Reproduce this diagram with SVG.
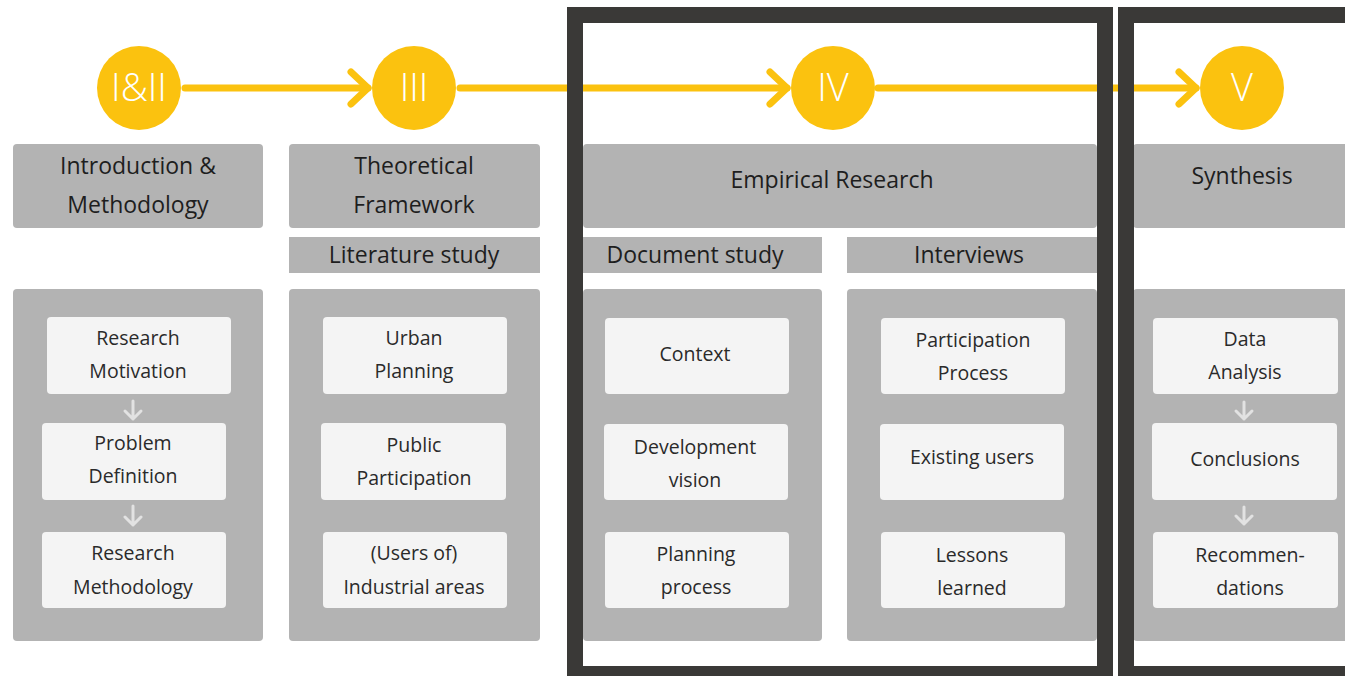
<svg xmlns="http://www.w3.org/2000/svg" width="1345" height="676" viewBox="0 0 1345 676">
<defs>
<style>
.panel{fill:#b3b3b3}
.card{fill:#f4f4f4}
.circ{fill:#fbc20f}
.frame{fill:none;stroke:#3a3937;stroke-width:16}
.flow{stroke:#fbc20f;stroke-width:7;fill:none;stroke-linecap:round;stroke-linejoin:round}
.down{stroke:#e2e2e2;stroke-width:3;fill:none;stroke-linecap:round;stroke-linejoin:round}
.h{font-family:"Open Sans","Liberation Sans",sans-serif;font-size:23px;fill:#1e1e1e;text-anchor:middle}
.s{font-family:"Open Sans","Liberation Sans",sans-serif;font-size:19.5px;fill:#2a2a2a;text-anchor:middle}
.n{font-family:"Open Sans","Liberation Sans",sans-serif;font-size:38px;font-weight:300;fill:#ffffff;text-anchor:middle}
</style>
</defs>
<rect width="1345" height="676" fill="#ffffff"/>

<g id="stage-1-2">
<circle class="circ" cx="139" cy="88" r="42"/>
<text class="n" x="139" y="101">I&amp;II</text>
</g>
<g id="stage-3">
<circle class="circ" cx="414" cy="88" r="42"/>
<text class="n" x="414" y="101">III</text>
</g>
<g id="stage-4">
<circle class="circ" cx="833" cy="88" r="42"/>
<text class="n" x="833" y="101">IV</text>
</g>
<g id="stage-5">
<circle class="circ" cx="1242" cy="88" r="42"/>
<text class="n" x="1242" y="101">V</text>
</g>

<g id="intro-header">
<rect class="panel" x="13" y="144" width="250" height="84" rx="4"/>
<text class="h" x="138" y="174">Introduction &amp;</text>
<text class="h" x="138" y="213">Methodology</text>
</g>
<g id="theory-header">
<rect class="panel" x="289" y="144" width="251" height="84" rx="4"/>
<text class="h" x="414" y="174">Theoretical</text>
<text class="h" x="414" y="213">Framework</text>
</g>
<g id="literature-study">
<rect class="panel" x="289" y="237" width="251" height="36"/>
<text class="h" x="414" y="263">Literature study</text>
</g>
<g id="empirical-header">
<rect class="panel" x="583" y="144" width="514" height="84" rx="4"/>
<text class="h" x="832" y="188">Empirical Research</text>
</g>
<g id="document-study">
<rect class="panel" x="583" y="237" width="239" height="36"/>
<text class="h" x="695" y="263">Document study</text>
</g>
<g id="interviews">
<rect class="panel" x="847" y="237" width="250" height="36"/>
<text class="h" x="969" y="263">Interviews</text>
</g>
<g id="synthesis-header">
<rect class="panel" x="1133" y="144" width="230" height="84" rx="4"/>
<text class="h" x="1242" y="184">Synthesis</text>
</g>

<g id="intro-panel">
<rect class="panel" x="13" y="289" width="250" height="352" rx="4"/>
</g>
<g id="research-motivation">
<rect class="card" x="47" y="317" width="184" height="77" rx="4"/>
<text class="s" x="138" y="345">Research</text>
<text class="s" x="138" y="378">Motivation</text>
</g>
<g id="problem-definition">
<rect class="card" x="42" y="423" width="184" height="77" rx="4"/>
<text class="s" x="133" y="450">Problem</text>
<text class="s" x="133" y="483">Definition</text>
</g>
<g id="research-methodology">
<rect class="card" x="42" y="532" width="184" height="76" rx="4"/>
<text class="s" x="133" y="560">Research</text>
<text class="s" x="133" y="594">Methodology</text>
</g>

<g id="theory-panel">
<rect class="panel" x="289" y="289" width="251" height="352" rx="4"/>
</g>
<g id="urban-planning">
<rect class="card" x="323" y="317" width="184" height="77" rx="4"/>
<text class="s" x="414" y="345">Urban</text>
<text class="s" x="414" y="378">Planning</text>
</g>
<g id="public-participation">
<rect class="card" x="321" y="423" width="185" height="77" rx="4"/>
<text class="s" x="414" y="452">Public</text>
<text class="s" x="414" y="485">Participation</text>
</g>
<g id="industrial-areas">
<rect class="card" x="323" y="532" width="184" height="76" rx="4"/>
<text class="s" x="414" y="560">(Users of)</text>
<text class="s" x="414" y="594">Industrial areas</text>
</g>

<g id="document-panel">
<rect class="panel" x="583" y="289" width="239" height="352" rx="4"/>
</g>
<g id="context">
<rect class="card" x="605" y="318" width="184" height="76" rx="4"/>
<text class="s" x="695" y="361">Context</text>
</g>
<g id="development-vision">
<rect class="card" x="604" y="424" width="184" height="76" rx="4"/>
<text class="s" x="695" y="454">Development</text>
<text class="s" x="695" y="487">vision</text>
</g>
<g id="planning-process">
<rect class="card" x="605" y="532" width="184" height="76" rx="4"/>
<text class="s" x="696" y="561">Planning</text>
<text class="s" x="696" y="594">process</text>
</g>

<g id="interviews-panel">
<rect class="panel" x="847" y="289" width="250" height="352" rx="4"/>
</g>
<g id="participation-process">
<rect class="card" x="881" y="318" width="184" height="76" rx="4"/>
<text class="s" x="973" y="347">Participation</text>
<text class="s" x="973" y="380">Process</text>
</g>
<g id="existing-users">
<rect class="card" x="880" y="424" width="184" height="76" rx="4"/>
<text class="s" x="972" y="464">Existing users</text>
</g>
<g id="lessons-learned">
<rect class="card" x="881" y="532" width="184" height="76" rx="4"/>
<text class="s" x="972" y="562">Lessons</text>
<text class="s" x="972" y="595">learned</text>
</g>

<g id="synthesis-panel">
<rect class="panel" x="1133" y="289" width="230" height="352" rx="4"/>
</g>
<g id="data-analysis">
<rect class="card" x="1153" y="318" width="185" height="76" rx="4"/>
<text class="s" x="1245" y="346">Data</text>
<text class="s" x="1245" y="379">Analysis</text>
</g>
<g id="conclusions">
<rect class="card" x="1152" y="423" width="185" height="77" rx="4"/>
<text class="s" x="1245" y="466">Conclusions</text>
</g>
<g id="recommendations">
<rect class="card" x="1153" y="532" width="185" height="76" rx="4"/>
<text class="s" x="1250" y="562">Recommen-</text>
<text class="s" x="1250" y="595">dations</text>
</g>

<g id="connectors">
<line class="flow" x1="185" y1="88" x2="368" y2="88"/>
<polyline class="flow" points="351,72 368,88 351,104"/>
<line class="flow" x1="460" y1="88" x2="787" y2="88"/>
<polyline class="flow" points="770,72 787,88 770,104"/>
<line class="flow" x1="878" y1="88" x2="1196" y2="88"/>
<polyline class="flow" points="1179,72 1196,88 1179,104"/>
<path class="down" d="M133,401 V419 M125,411 L133,419 L141,411"/>
<path class="down" d="M133,506 V525 M125,517 L133,525 L141,517"/>
<path class="down" d="M1244,402 V419 M1236,411 L1244,419 L1252,411"/>
<path class="down" d="M1244,507 V524 M1236,516 L1244,524 L1252,516"/>
</g>

<g id="frames">
<rect class="frame" x="575" y="15" width="530" height="659"/>
<rect class="frame" x="1126" y="15" width="240" height="659"/>
</g>
</svg>
